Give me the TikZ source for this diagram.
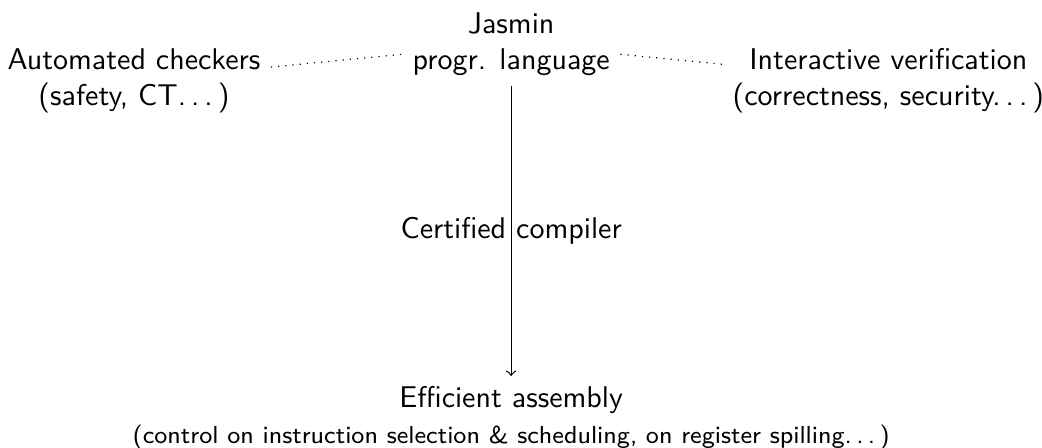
\documentclass[tikz,border=0pt]{standalone}
\usepackage{tikz}
\usetikzlibrary{positioning}

\newcommand{\spdots}{.\kern\fontdimen3\font.\kern\fontdimen3\font.\kern\fontdimen3\font}

\begin{document}
\begin{tikzpicture}[
    every node/.style={font=\sffamily, align=center},
    link/.style={dotted},
    compile/.style={->}
]
\useasboundingbox (-5.99,0.512) rectangle (6.22,-4.737);

\node (jasmin) at (0,0) {Jasmin\\progr. language};
\node (checkers) at (-4.42,-0.43) {Automated checkers\\(safety, CT\spdots)};
\node (interactive) at (4.42,-0.43) {Interactive verification\\(correctness, security\spdots)};
\node (assembly) at (0,-4.39) {Efficient assembly\\{\fontsize{8.2}{9.8}\selectfont (control on instruction selection \& scheduling, on register spilling\spdots)}};

% links to the verification tools
\draw[link] (checkers) -- (jasmin);
\draw[link] (jasmin) -- (interactive);

\draw[compile] (jasmin) -- node {Certified compiler} (assembly);

\end{tikzpicture}
\end{document}
